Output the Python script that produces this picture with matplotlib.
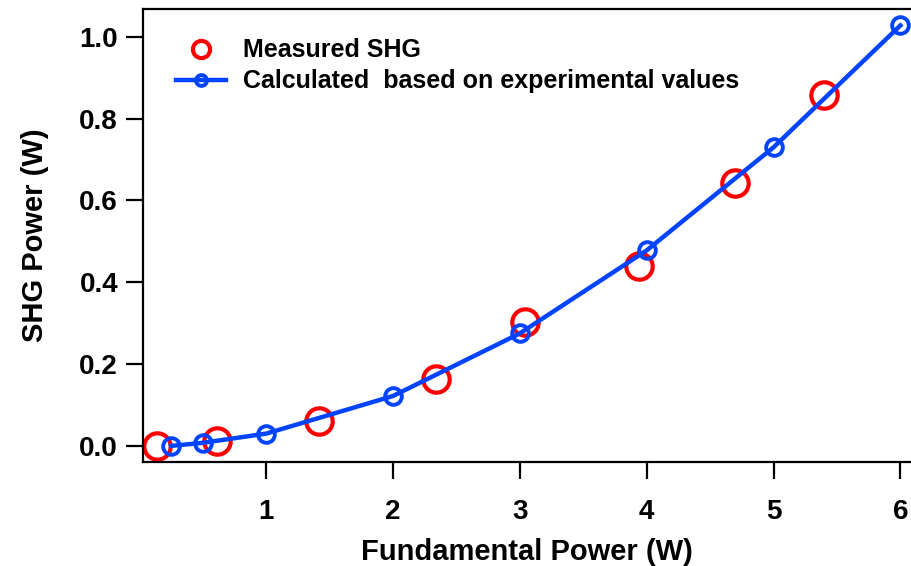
import matplotlib
matplotlib.use("Agg")
import matplotlib.pyplot as plt

# Measured SHG (red open circles)
meas_x = [0.14, 0.61, 1.42, 2.34, 3.04, 3.94, 4.70, 5.40]
meas_y = [0.000, 0.012, 0.061, 0.164, 0.303, 0.440, 0.643, 0.857]

# Calculated based on experimental values (blue line + markers)
calc_x = [0.25, 0.5, 1.0, 2.0, 3.0, 4.0, 5.0, 6.0]
calc_y = [0.000, 0.0075, 0.030, 0.122, 0.275, 0.478, 0.730, 1.028]

x_ticks = [1, 2, 3, 4, 5, 6]
y_ticks = [0.0, 0.2, 0.4, 0.6, 0.8, 1.0]

plt.rcParams['font.family'] = ['Liberation Sans', 'DejaVu Sans']
plt.rcParams['font.weight'] = 'bold'

fig = plt.figure(figsize=(9.11, 5.66), dpi=100)
ax = fig.add_axes([0.157, 0.184, 0.8425, 0.800])

red = '#FF0000'
blue = '#0044FF'

ax.plot(meas_x, meas_y, linestyle='none', marker='o', markersize=19,
        markerfacecolor='none', markeredgecolor=red, markeredgewidth=3,
        label='Measured SHG', zorder=2)
ax.plot(calc_x, calc_y, color=blue, linewidth=3.2, marker='o', markersize=12,
        markerfacecolor='none', markeredgecolor=blue, markeredgewidth=2.8,
        label='Calculated  based on experimental values', zorder=3)

ax.set_xlim(0.03, 6.08)
ax.set_ylim(-0.039, 1.068)
ax.set_xticks(x_ticks)
ax.set_xticklabels([str(t) for t in x_ticks])
ax.set_yticks(y_ticks)
ax.set_yticklabels([f'{t:.1f}' for t in y_ticks])

for s in ['left', 'bottom', 'top']:
    ax.spines[s].set_linewidth(1.6)
ax.spines['right'].set_visible(False)

ax.tick_params(axis='both', direction='out', length=12, width=1.6,
               labelsize=20)
ax.tick_params(axis='x', pad=15)
ax.tick_params(axis='y', pad=6)
for lab in ax.get_xticklabels() + ax.get_yticklabels():
    lab.set_fontweight('bold')

ax.set_xlabel('Fundamental Power (W)', fontsize=21, fontweight='bold', labelpad=9)
ax.set_ylabel('SHG Power (W)', fontsize=21, fontweight='bold', labelpad=22)

leg = ax.legend(loc='upper left', bbox_to_anchor=(0.013, 0.985), frameon=False,
                fontsize=18, markerscale=0.65, handlelength=2.0,
                handletextpad=0.7, labelspacing=0.28)
for t in leg.get_texts():
    t.set_fontweight('bold')

fig.savefig('out.png', dpi=100)
